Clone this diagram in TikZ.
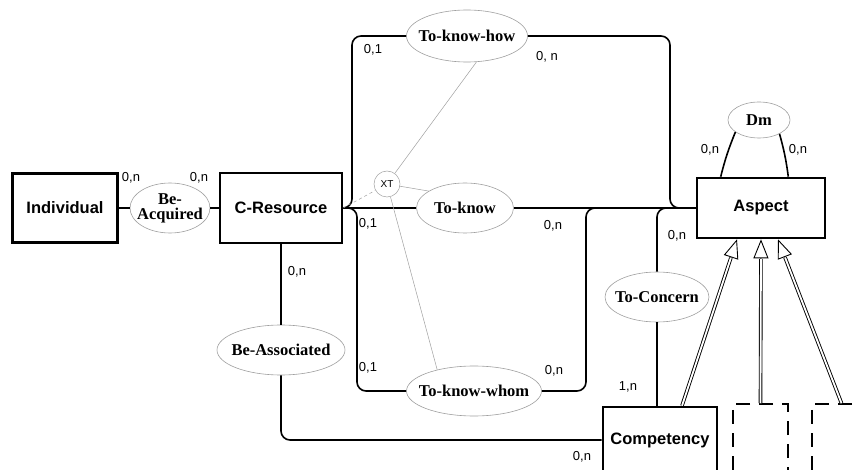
\documentclass[tikz,border=0pt]{standalone}
\usepackage{fontspec}
\setmainfont{Liberation Serif}
\setsansfont{Liberation Sans}
\usetikzlibrary{shapes.geometric,arrows.meta}

\begin{document}
\begin{tikzpicture}[x=1pt,y=-1pt,
                    entity/.style = {draw, line width=2.6pt, rectangle,
                    font=\sffamily\bfseries\fontsize{16.5}{18}\selectfont},
                    relation/.style = {draw=gray!75, line width=0.6pt, ellipse,
                    inner xsep=-10pt, inner ysep=0pt, align=center,
                    font=\bfseries\fontsize{16.5}{15}\selectfont},
                    card/.style = {inner sep=0pt,
                    font=\sffamily\fontsize{13}{14}\selectfont},
                    link/.style = {draw, line width=1.6pt, rounded corners=9pt},
                    thin link/.style = {draw=gray!75, line width=0.5pt},
                    subtype/.style = {draw, line width=1.5pt,
                    dash pattern=on 14pt off 9pt},
                    isa head/.style = {draw, line width=0.9pt,
                    -{Triangle[open,length=19pt,width=15pt]}},
                    isa line/.style = {draw, double, line width=0.9pt,
                    double distance=1.8pt, shorten >=19.5pt}]
  \path[use as bounding box, clip] (0,0) rectangle (860,470);

  % entities
  \node[entity, minimum width=105pt, minimum height=69pt] (ind) at (65,208) {Individual};
  \node[entity, minimum width=122pt, minimum height=70pt] (cres) at (281,208) {C-Resource};
  \node[entity, minimum width=128pt, minimum height=60pt] (asp) at (761,208) {Aspect};
  \node[entity, minimum width=114pt, minimum height=66pt] (comp) at (660,440) {Competency};
  \node[subtype, minimum width=55pt, minimum height=68pt] (sub1) at (760.5,438) {};
  \node[subtype, minimum width=55pt, minimum height=68pt] (sub2) at (839.5,438) {};

  % relations
  \node[relation, minimum width=80pt, minimum height=50pt] (acq) at (170,208) {Be-\\Acquired};
  \node[relation, minimum width=121pt, minimum height=52pt] (how) at (467,36) {To-know-how};
  \node[relation, minimum width=97pt, minimum height=50pt] (know) at (465,208) {To-know};
  \node[relation, minimum width=135pt, minimum height=50pt] (whom) at (474,391) {To-know-whom};
  \node[relation, minimum width=128pt, minimum height=50pt] (assoc) at (281,350) {Be-Associated};
  \node[relation, minimum width=104pt, minimum height=50pt] (conc) at (657,297) {To-Concern};
  \node[relation, minimum width=62pt, minimum height=36pt] (dm) at (759,120) {Dm};
  \node[draw=gray!75, circle, line width=0.5pt, minimum size=26pt, inner sep=0pt,
        font=\sffamily\fontsize{10}{11}\selectfont] (xt) at (387,184) {XT};

  \coordinate (jl) at (352,208);
  \coordinate (jl2) at (357,208);
  \coordinate (jr) at (670,208);
  \coordinate (jr2) at (586,208);

  % links
  \draw[link] (ind) -- (acq);
  \draw[link] (acq) -- (cres);
  \draw[link] (cres) -- (assoc);
  \draw[link] (assoc) |- (comp);
  \draw[link] (cres) -- (know);
  \draw[link] (know) -- (asp);
  \draw[link] (cres.east) -- (jl) |- (how);
  \draw[link] (how) -| (jr) -- (asp.west);
  \draw[link] (cres.east) -- (jl2) |- (whom);
  \draw[link] (whom) -| (jr2) -- (asp.west);
  \draw[link] (conc) |- (asp.west);
  \draw[link] (conc) -- (conc |- comp.north);
  \draw[link] (dm.207) to[bend right=4] ([xshift=25pt]asp.north west);
  \draw[link] (dm.326) to[bend left=4] ([xshift=-38pt]asp.north east);

  % constraint XT
  \draw[thin link, dashed] (cres.east) -- (xt);
  \draw[thin link] (xt) -- (how.290);
  \draw[thin link] (xt) -- (know.155);
  \draw[thin link] (xt) -- (whom.150);

  % is-a
  \coordinate (isa1) at ([xshift=22pt]comp.north);
  \coordinate (isa2) at (sub1.north);
  \coordinate (isa3) at ([xshift=2pt]sub2.north);
  \coordinate (top1) at ([xshift=-24pt]asp.south);
  \coordinate (top2) at (asp.south);
  \coordinate (top3) at ([xshift=17pt]asp.south);
  \foreach \i in {1,2,3} {
    \draw[isa head] (isa\i) -- (top\i);
    \draw[isa line] (isa\i) -- (top\i);
  }

  % cardinalities
  \node[card] (k1) at (131,178) {0,n};
  \node[card] (k2) at (199,178) {0,n};
  \node[card] (k3) at (373,50) {0,1};
  \node[card] (k4) at (547,57) {0, n};
  \node[card] (k5) at (368,224) {0,1};
  \node[card] (k6) at (553,226) {0,n};
  \node[card] (k7) at (297,272) {0,n};
  \node[card] (k8) at (368,368) {0,1};
  \node[card] (k9) at (554,371) {0,n};
  \node[card] (k10) at (677,236) {0,n};
  \node[card] (k11) at (628,387) {1,n};
  \node[card] (k12) at (582,457) {0,n};
  \node[card] (k13) at (710,150) {0,n};
  \node[card] (k14) at (798,150) {0,n};
\end{tikzpicture}
\end{document}
